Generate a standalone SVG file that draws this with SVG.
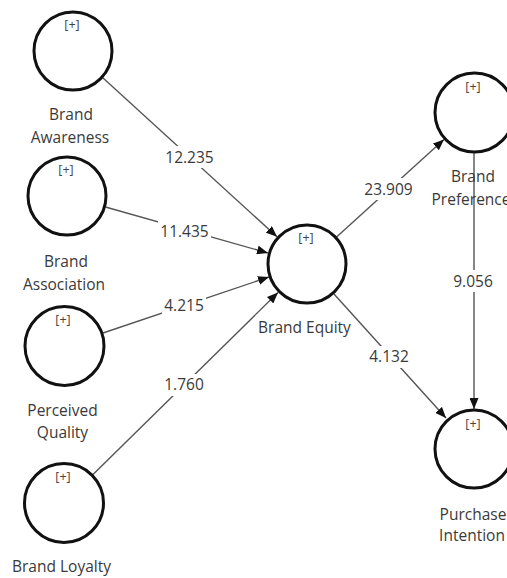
<svg xmlns="http://www.w3.org/2000/svg" width="507" height="578" viewBox="0 0 507 578">
<style>
.c{fill:none;stroke:#111;stroke-width:3}
.p{font-family:"Open Sans","Noto Sans",sans-serif;font-size:12.5px;fill:#444;text-anchor:middle}
.t{font-family:"Open Sans","Noto Sans",sans-serif;font-size:15.5px;fill:#3a3a3a;text-anchor:middle}
.e{stroke:#555;stroke-width:1.4;fill:none}
.bg{fill:#fff}
</style>
<defs>
<marker id="ah" viewBox="0 0 11 9" refX="11" refY="4.5" markerWidth="11" markerHeight="9" markerUnits="userSpaceOnUse" orient="auto">
<path d="M0,0 L11,4.5 L0,9 Z" fill="#111"/>
</marker>
</defs>
<rect width="507" height="578" fill="#fff"/>
<g id="connectors">
<line class="e" x1="102.5" y1="77.5" x2="277" y2="236.8" marker-end="url(#ah)"/>
<line class="e" x1="105.5" y1="207" x2="268" y2="253" marker-end="url(#ah)"/>
<line class="e" x1="103" y1="333" x2="269" y2="277" marker-end="url(#ah)"/>
<line class="e" x1="93" y1="474.5" x2="278" y2="292.5" marker-end="url(#ah)"/>
<line class="e" x1="336" y1="237.5" x2="444" y2="139.5" marker-end="url(#ah)"/>
<line class="e" x1="334" y1="294" x2="446" y2="418" marker-end="url(#ah)"/>
<line class="e" x1="474" y1="152" x2="474" y2="409" marker-end="url(#ah)"/>
<rect class="bg" x="163" y="146" width="53" height="22"/>
<text class="t" x="189.5" y="163">12.235</text>
<rect class="bg" x="158" y="220" width="53" height="22"/>
<text class="t" x="184.5" y="237">11.435</text>
<rect class="bg" x="162" y="295" width="44" height="22"/>
<text class="t" x="184" y="311">4.215</text>
<rect class="bg" x="162" y="374" width="44" height="22"/>
<text class="t" x="184" y="390">1.760</text>
<rect class="bg" x="361" y="178" width="55" height="22"/>
<text class="t" x="388.5" y="195">23.909</text>
<rect class="bg" x="450" y="270" width="46" height="22"/>
<text class="t" x="473" y="287">9.056</text>
<rect class="bg" x="366" y="346" width="46" height="22"/>
<text class="t" x="389" y="362">4.132</text>
</g>
<g id="brand-awareness">
<circle class="c" cx="73" cy="51" r="39"/>
<text class="p" x="72" y="29">[+]</text>
<text class="t" x="71" y="120">Brand</text>
<text class="t" x="70" y="143">Awareness</text>
</g>
<g id="brand-association">
<circle class="c" cx="67" cy="196" r="39"/>
<text class="p" x="66" y="174">[+]</text>
<text class="t" x="66" y="267">Brand</text>
<text class="t" x="64" y="290">Association</text>
</g>
<g id="perceived-quality">
<circle class="c" cx="64.5" cy="346" r="39.5"/>
<text class="p" x="63" y="324">[+]</text>
<text class="t" x="62.5" y="416">Perceived</text>
<text class="t" x="62.5" y="438">Quality</text>
</g>
<g id="brand-loyalty">
<circle class="c" cx="64" cy="503" r="39.5"/>
<text class="p" x="63" y="481">[+]</text>
<text class="t" x="61.5" y="572">Brand Loyalty</text>
</g>
<g id="brand-equity">
<circle class="c" cx="307" cy="264" r="39"/>
<text class="p" x="306" y="242">[+]</text>
<text class="t" x="304.5" y="333">Brand Equity</text>
</g>
<g id="brand-preference">
<circle class="c" cx="474.5" cy="112.5" r="39.5"/>
<text class="p" x="473" y="91">[+]</text>
<text class="t" x="473" y="182">Brand</text>
<text class="t" x="471" y="205">Preference</text>
</g>
<g id="purchase-intention">
<circle class="c" cx="474" cy="449" r="39"/>
<text class="p" x="473" y="428">[+]</text>
<text class="t" x="473" y="520">Purchase</text>
<text class="t" x="472" y="541">Intention</text>
</g>
</svg>
